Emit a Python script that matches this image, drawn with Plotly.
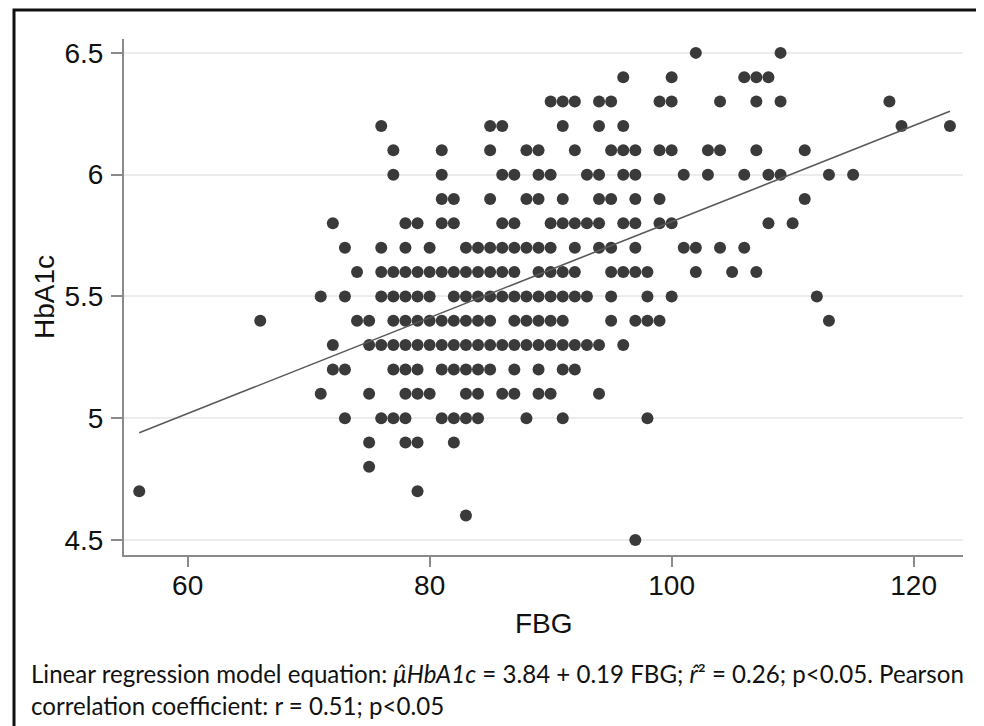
import plotly.graph_objects as go

# HbA1c levels and the FBG values of the points sitting on each level
fbg_65 = [102, 109]
fbg_64 = [96, 100, 106, 107, 108]
fbg_63 = [90, 91, 92, 94, 95, 99, 100, 104, 107, 109, 118]
fbg_62 = [76, 85, 86, 91, 94, 96, 119, 123]
fbg_61 = [77, 81, 85, 88, 89, 92, 95, 96, 97, 99, 100, 103, 104, 107, 111]
fbg_60 = [77, 81, 86, 87, 89, 90, 93, 94, 96, 97, 101, 103, 106, 108, 109, 113, 115]
fbg_59 = [81, 82, 85, 88, 89, 91, 94, 95, 97, 99, 111]
fbg_58 = [72, 78, 79, 81, 82, 86, 87, 90, 91, 92, 93, 94, 96, 97, 99, 100, 108, 110]
fbg_57 = [73, 76, 78, 80, 83, 84, 85, 86, 87, 88, 89, 90, 92, 94, 95, 97, 101, 102, 104, 106]
fbg_56 = [74, 76, 77, 78, 79, 80, 81, 82, 83, 84, 85, 86, 87, 89, 90, 91, 92,
          95, 96, 97, 98, 102, 105, 107]
fbg_55 = [71, 73, 76, 77, 78, 79, 80, 82, 83, 84, 85, 86, 87, 88, 89, 90, 91, 92, 93,
          95, 98, 100, 112]
fbg_54 = [66, 74, 75, 77, 78, 79, 80, 81, 82, 83, 84, 85, 87, 88, 89, 90, 91,
          95, 97, 98, 99, 113]
fbg_53 = [72, 75, 76, 77, 78, 79, 80, 81, 82, 83, 84, 85, 86, 87, 88, 89, 90, 91, 92, 93, 94, 96]
fbg_52 = [72, 73, 77, 78, 79, 81, 82, 83, 84, 85, 87, 89, 91, 92]
fbg_51 = [71, 75, 78, 79, 80, 83, 84, 86, 87, 89, 90, 94]
fbg_50 = [73, 76, 77, 78, 81, 82, 83, 84, 88, 91, 98]
fbg_49 = [75, 78, 79, 82]
fbg_48 = [75]
fbg_47 = [56, 79]
fbg_46 = [83]
fbg_45 = [97]

levels = [
    (6.5, fbg_65), (6.4, fbg_64), (6.3, fbg_63), (6.2, fbg_62), (6.1, fbg_61),
    (6.0, fbg_60), (5.9, fbg_59), (5.8, fbg_58), (5.7, fbg_57), (5.6, fbg_56),
    (5.5, fbg_55), (5.4, fbg_54), (5.3, fbg_53), (5.2, fbg_52), (5.1, fbg_51),
    (5.0, fbg_50), (4.9, fbg_49), (4.8, fbg_48), (4.7, fbg_47), (4.6, fbg_46),
    (4.5, fbg_45),
]

# fitted line at its two ends
fit_fbg = [56, 123]
fit_hba1c = [4.94, 6.26]

y_ticks = [4.5, 5, 5.5, 6, 6.5]
y_ticktext = ["4.5", "5", "5.5", "6", "6.5"]
x_ticks = [60, 80, 100, 120]

xs, ys = [], []
for level, row in levels:
    for v in row:
        xs.append(v)
        ys.append(level)

axis_font = dict(family="Liberation Sans, Arial, sans-serif", size=28, color="#111111")

fig = go.Figure()
fig.add_trace(go.Scatter(
    x=xs, y=ys, mode="markers",
    marker=dict(size=12, color="#3a3a3a", line=dict(width=0)),
    hoverinfo="skip",
))
fig.add_trace(go.Scatter(
    x=fit_fbg, y=fit_hba1c, mode="lines",
    line=dict(color="#5a5a5a", width=1.6),
    hoverinfo="skip",
))

fig.update_xaxes(
    range=[54.74, 124.08], tickvals=x_ticks, showgrid=False, zeroline=False,
    showline=True, linecolor="#8a8a8a", linewidth=2,
    ticks="outside", ticklen=10, tickwidth=2, tickcolor="#8a8a8a",
    tickfont=axis_font, ticklabelstandoff=-6,
)
fig.update_yaxes(
    range=[4.438, 6.557], tickvals=y_ticks, ticktext=y_ticktext,
    showgrid=True, gridcolor="#ececec", gridwidth=2, zeroline=False,
    showline=True, linecolor="#8a8a8a", linewidth=2,
    ticks="outside", ticklen=11, tickwidth=2, tickcolor="#8a8a8a",
    tickfont=axis_font, ticklabelstandoff=2,
)

# axis titles
fig.add_annotation(text="HbA1c", xref="paper", yref="paper", x=-0.0954, y=0.5,
                   textangle=-90, showarrow=False, font=axis_font,
                   xanchor="center", yanchor="middle")
fig.add_annotation(text="FBG", xref="paper", yref="paper", x=0.5, y=-0.1337,
                   showarrow=False, font=axis_font, xanchor="center", yanchor="middle")

# caption under the chart
cap_font = dict(family="Lato, Open Sans, sans-serif", size=24.1, color="#111111")
fig.add_annotation(
    text="Linear regression model equation: <i>\u03bc\u0302HbA1c</i> = 3.84 + 0.19 FBG; "
         "<i>r\u0302</i>\u00b2 = 0.26; p<0.05. Pearson",
    xref="paper", yref="paper", x=-0.1132, y=-0.230, showarrow=False,
    font=cap_font, xanchor="left", yanchor="middle")
fig.add_annotation(
    text="correlation coefficient: r = 0.51; p<0.05",
    xref="paper", yref="paper", x=-0.1132, y=-0.292, showarrow=False,
    font=cap_font, xanchor="left", yanchor="middle")

# outer frame (its bottom edge lies below the visible page)
fig.add_shape(type="rect", xref="paper", yref="paper",
              x0=-0.1311, x1=1.0179, y0=-0.36, y1=1.0562,
              line=dict(color="#111111", width=3))

# the page body adds an 8px margin, so the margins below are shifted by it
fig.update_layout(
    width=984, height=726, autosize=False,
    margin=dict(l=116, r=29, t=31, b=179),
    paper_bgcolor="white", plot_bgcolor="white",
    showlegend=False,
)

fig.write_html("out.html")
